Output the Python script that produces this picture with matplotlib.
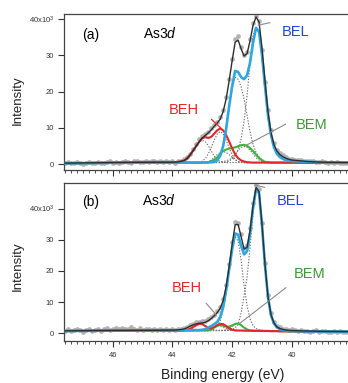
import numpy as np
import matplotlib
matplotlib.use("Agg")
import matplotlib.pyplot as plt
from matplotlib.ticker import MultipleLocator

plt.rcParams['font.family'] = ['Liberation Sans', 'DejaVu Sans']
plt.rcParams['mathtext.fontset'] = 'custom'
plt.rcParams['mathtext.rm'] = 'Liberation Sans'
plt.rcParams['mathtext.it'] = 'Liberation Sans:italic'

# binding energy grids (eV)
E_data = np.round(np.arange(47.6, 37.95, -0.1), 1)          # measured points
E_fine = np.round(np.arange(44.0, 39.95, -0.1), 1)          # fit region
E_fit = np.concatenate([[47.6, 46.5, 45.5, 44.5], E_fine, [39.5, 39.0, 38.0]])

# ---------------- panel (a), intensity in 10^3 counts ----------------
data_a = ([0.3, 0.5, 0.2, 0.4, 0.6, 0.3, 0.1, 0.4, 0.5, 0.2, 0.3, 0.6, 0.4, 0.2, 0.5, 0.7, 0.4, 0.6,
           0.3, 0.5, 0.8, 0.6, 0.4, 0.7, 0.9, 0.5, 0.6, 0.8, 0.5, 0.7, 0.9, 0.6, 0.8, 0.5, 0.7, 0.6]
          + [0.7, 0.4, 0.9, 0.8, 1.3, 1.8, 2.9, 4.1, 5.4, 6.8, 7.6, 8.2, 8.9, 9.9, 10.8, 11.6, 12.9,
             14.8, 18.6, 23.4, 29.1, 34.6, 35.2, 32.4, 30.1, 30.9, 34.6, 38.9, 40.9, 39.5, 31.6, 22.6,
             14.9, 9.3, 5.9, 3.9, 3.0, 2.4, 1.9, 1.4, 1.5]
          + [1.2, 1.0, 1.1, 0.8, 0.9, 0.7, 0.8, 0.6, 0.5, 0.7, 0.5, 0.4, 0.6, 0.3, 0.5, 0.4, 0.2, 0.4,
             0.3, 0.5])

total_a = ([0.25, 0.35, 0.45, 0.5]
           + [0.5, 0.55, 0.6, 0.75, 1.0, 1.6, 2.6, 3.8, 5.0, 6.2, 7.2, 7.9, 8.6, 9.4, 10.4, 11.3, 12.4,
              14.5, 18.0, 23.0, 28.5, 33.6, 34.2, 31.8, 29.8, 30.5, 34.0, 38.3, 40.6, 39.2, 32.0, 23.0,
              14.5, 8.8, 5.4, 3.6, 2.6, 2.0, 1.6, 1.3, 1.1]
           + [0.7, 0.5, 0.4])
bel_a = ([0.2, 0.3, 0.35, 0.4]
         + [0.4] * 11 + [0.45, 0.45, 0.5, 0.6, 1.0, 2.3, 5.0, 9.8, 16.0, 21.5, 25.7, 25.4, 24.0, 23.4,
                         24.5, 28.0, 33.5, 37.6, 36.5, 30.0, 21.5, 13.5, 8.0, 4.6, 2.8, 1.9, 1.4, 1.1,
                         0.9, 0.8]
         + [0.6, 0.45, 0.35])
beh_a = ([0.2, 0.3, 0.35, 0.45]
         + [0.5, 0.5, 0.6, 0.75, 1.0, 1.6, 2.6, 3.8, 5.0, 6.2, 7.1, 7.4, 7.2, 7.5, 8.4, 9.3, 9.8, 9.3,
            8.0, 6.2, 4.3, 2.7, 1.6, 1.0, 0.7, 0.5, 0.45] + [0.4] * 14
         + [0.35, 0.3, 0.3])
bem_a = ([0.2, 0.3, 0.35, 0.4]
         + [0.4] * 12 + [0.5, 0.8, 1.2, 1.8, 2.8, 3.6, 4.0, 4.3, 4.4, 4.6, 4.9, 5.2, 5.3, 5.0, 4.4,
                         3.6, 2.6, 1.7, 1.0, 0.6, 0.45, 0.4, 0.4, 0.4, 0.4, 0.4, 0.35, 0.35, 0.35]
         + [0.35, 0.3, 0.3])

# single doublet components (dotted), on E_fine
comp_a = [
    [0.4] * 16 + [0.6, 0.7, 0.9, 1.2, 1.6, 2.4, 3.9, 6.9, 11.9, 18.9, 27.9, 35.4, 37.6, 36.5, 30.0,
                  21.5, 13.5, 8.0, 4.6, 2.8, 1.9, 1.4, 1.1, 0.9, 0.7],
    [0.4] * 13 + [0.5, 0.7, 1.1, 2.3, 4.9, 9.4, 15.4, 20.9, 23.9, 23.4, 21.4, 17.9, 13.4, 8.9, 5.4,
                  3.2, 1.9, 1.2, 0.8, 0.6] + [0.5] + [0.4] * 7,
    [0.4, 0.4, 0.45, 0.5, 0.7, 1.3, 2.3, 3.6, 5.0, 6.0, 6.5, 6.2, 5.1, 3.6, 2.2, 1.2, 0.7, 0.5]
    + [0.4] * 23,
    [0.4] * 8 + [0.4, 0.5, 0.8, 1.5, 2.8, 4.6, 6.6, 8.3, 9.0, 8.3, 6.6, 4.4, 2.6, 1.3, 0.7, 0.5]
    + [0.4] * 17,
    [0.4] * 10 + [0.4, 0.5, 0.7, 1.1, 1.8, 2.6, 3.2, 3.4, 3.2, 2.6, 1.8, 1.1, 0.7, 0.5] + [0.4] * 17,
    [0.4] * 17 + [0.4, 0.5, 0.8, 1.5, 2.6, 3.8, 4.6, 4.8, 4.6, 3.8, 2.8, 1.8, 1.1, 0.7, 0.5]
    + [0.4] * 9,
]

# ---------------- panel (b) ----------------
data_b = ([0.8, 1.2, 0.6, 1.0, 1.4, 0.9, 0.5, 1.1, 1.3, 0.7, 1.0, 1.5, 0.8, 1.2, 1.6, 1.1, 1.4, 1.8,
           1.3, 1.7, 1.2, 1.5, 1.9, 1.3, 1.1, 1.6, 1.0, 1.4, 1.2, 0.9, 1.3, 1.1, 1.5, 0.9, 1.2, 1.0]
          + [1.3, 0.9, 1.4, 1.2, 1.7, 2.1, 2.7, 3.1, 3.5, 3.6, 3.8, 3.9, 4.5, 5.1, 6.0, 7.1, 8.4, 11.0,
             15.6, 22.1, 29.3, 35.6, 35.5, 31.8, 27.4, 28.3, 33.6, 41.8, 47.4, 46.2, 35.4, 22.6, 12.3,
             6.5, 3.7, 2.4, 1.9, 1.5, 1.3, 1.1, 1.2]
          + [1.0, 0.7, 0.9, 0.6, 0.8, 0.5, 0.7, 0.9, 0.4, 0.6, 0.8, 0.5, 0.3, 0.6, 0.4, 0.7, 0.5, 0.3,
             0.6, 0.4])

total_b = ([0.75, 0.85, 0.9, 0.95]
           + [1.0, 1.0, 1.1, 1.2, 1.4, 1.8, 2.3, 2.7, 3.0, 3.2, 3.3, 3.5, 4.0, 4.7, 5.6, 6.6, 8.0, 10.5,
              15.0, 21.5, 28.5, 34.8, 34.9, 31.0, 27.0, 27.6, 33.0, 41.0, 46.8, 45.5, 35.0, 22.0, 11.8,
              6.0, 3.3, 2.0, 1.5, 1.2, 1.0, 0.9, 0.85]
           + [0.7, 0.6, 0.5])
bel_b = ([0.7, 0.8, 0.85, 0.9]
         + [0.9, 0.9, 0.9, 0.9, 0.9, 0.95, 0.95, 1.0, 1.0, 1.0, 1.1, 1.3, 1.8, 2.3, 2.9, 3.6, 5.2, 8.5,
            13.8, 20.5, 27.0, 32.0, 31.6, 28.0, 25.3, 26.3, 32.0, 40.3, 46.2, 45.0, 34.6, 21.7, 11.6,
            5.8, 3.1, 1.9, 1.3, 1.0, 0.8, 0.7, 0.7]
         + [0.6, 0.55, 0.5])
beh_b = ([0.7, 0.8, 0.85, 0.9]
         + [0.9] * 4 + [0.95, 1.1, 1.4, 2.0, 2.6, 3.0, 2.9, 2.3, 1.7, 1.6, 2.0, 2.6, 3.0, 2.9, 2.3, 1.6,
                        1.1, 0.9]
         + [0.85, 0.85, 0.8, 0.8, 0.8, 0.75, 0.75, 0.75, 0.7, 0.7, 0.7, 0.65, 0.65, 0.65, 0.6, 0.6,
            0.6, 0.6, 0.6]
         + [0.55, 0.5, 0.5])
bem_b = ([0.7, 0.8, 0.85, 0.9]
         + [0.9] * 13 + [1.2, 1.8, 2.4, 2.6, 2.4, 2.1, 2.1, 2.5, 3.0, 3.1, 2.6, 1.8, 1.2, 0.9]
         + [0.85, 0.8, 0.8, 0.8, 0.75, 0.75, 0.7, 0.7, 0.7, 0.65, 0.65, 0.6, 0.6, 0.6]
         + [0.6, 0.55, 0.5])

comp_b = [
    [0.8] * 18 + [0.9, 1.0, 1.2, 1.7, 2.8, 6.5, 12.0, 18.0, 27.5, 38.5, 46.2, 45.0, 34.6, 21.7, 11.6,
                  5.8, 3.1, 1.9, 1.3, 1.0, 0.8, 0.7, 0.7],
    [0.8] * 13 + [1.1, 1.5, 2.3, 4.0, 7.3, 12.8, 19.8, 26.8, 31.1, 29.5, 23.5, 15.3, 8.8, 4.6, 2.4,
                  1.5, 1.1, 0.9] + [0.8, 0.8, 0.8, 0.8, 0.75, 0.75, 0.7, 0.7, 0.7, 0.7],
    [0.9] * 5 + [1.0, 1.3, 1.8, 2.4, 2.9, 2.9, 2.4, 1.8, 1.3, 1.0] + [0.9] * 11 + [0.8] * 15,
    [0.9] * 12 + [1.0, 1.3, 1.8, 2.4, 2.9, 2.9, 2.4, 1.8, 1.3, 1.0] + [0.9] * 4 + [0.8] * 15,
    [0.9] * 11 + [0.9, 1.1, 1.4, 1.9, 2.4, 2.4, 2.0, 1.5, 1.1, 0.9] + [0.9] * 5 + [0.8] * 15,
    [0.9] * 17 + [0.9, 1.1, 1.5, 2.2, 2.9, 3.1, 2.6, 1.8, 1.2, 0.9] + [0.8] * 14,
]

C_DATA = '#a6a6a6'
C_TOTAL = '#2e2e2e'
C_BEL = '#2ea6df'
C_BEH = '#e3262b'
C_BEM = '#3cb43a'
C_DOT = '#707070'
C_LEAD = '#8a8a8a'

W, H = 348.0, 383.0


def px(x, y):
    return x / W, 1 - y / H


def draw_panel(ax, data, total, bel, beh, bem, comps, ylim, show_xlabels):
    ax.plot(E_data, data, 'o', ms=3.4, mew=0, color=C_DATA, alpha=0.85, zorder=1)
    for c in comps:
        ax.plot(E_fine, c, color=C_DOT, lw=0.8, ls=(0, (1.2, 1.4)), zorder=2)
    ax.plot(E_fit, bem, color=C_BEM, lw=1.5, zorder=3)
    ax.plot(E_fit, beh, color=C_BEH, lw=1.5, zorder=4)
    ax.plot(E_fit, bel, color=C_BEL, lw=1.9, zorder=5)
    ax.plot(E_fit, total, color=C_TOTAL, lw=1.0, zorder=6)

    ax.set_xlim(47.63, 37.9)
    ax.set_ylim(*ylim)
    ax.set_yticks([0, 10, 20, 30, 40])
    ax.set_yticklabels(['0', '10', '20', '30', '40x10$^3$'])
    ax.set_xticks([46, 44, 42, 40, 38])
    ax.xaxis.set_minor_locator(MultipleLocator(0.2))
    ax.tick_params(axis='both', which='major', direction='out', length=4, width=0.8,
                   labelsize=5.5, colors='#333333', pad=3)
    ax.tick_params(axis='x', which='minor', direction='out', length=2.5, width=0.6,
                   colors='#333333')
    ax.tick_params(axis='x', labelbottom=show_xlabels, pad=4)
    for s in ax.spines.values():
        s.set_color('#444444')
        s.set_linewidth(0.9)


fig = plt.figure(figsize=(3.48, 3.83), dpi=100)
ax_a = fig.add_axes([64 / W, 1 - 170 / H, 290.6 / W, 156 / H])
ax_b = fig.add_axes([64 / W, 1 - 340.7 / H, 290.6 / W, 157.4 / H])

draw_panel(ax_a, data_a, total_a, bel_a, beh_a, bem_a, comp_a, (-1.65, 41.4), False)
draw_panel(ax_b, data_b, total_b, bel_b, beh_b, bem_b, comp_b, (-2.4, 48.1), True)

# leader lines (data coordinates)
ax_a.plot([41.13, 40.74], [38.3, 39.0], color=C_LEAD, lw=0.8, zorder=7)
ax_a.plot([42.69, 42.36], [12.3, 9.8], color=C_BEH, lw=0.9, zorder=7)
ax_a.plot([40.21, 41.52], [11.0, 5.2], color=C_LEAD, lw=0.8, zorder=7)
ax_b.plot([41.24, 40.91], [47.5, 46.8], color=C_LEAD, lw=0.8, zorder=7)
ax_b.plot([42.87, 42.53], [9.6, 5.9], color=C_LEAD, lw=0.8, zorder=7)
ax_b.plot([40.20, 41.74], [14.6, 3.2], color=C_LEAD, lw=0.8, zorder=7)

# labels
for (x, y), s, c in [((91, 35), '(a)', 'black'), ((160, 34), 'As3$\\mathit{d}$', 'black'),
                     ((296, 31.5), 'BEL', '#2a40dd'), ((184, 110), 'BEH', C_BEH),
                     ((312, 125), 'BEM', '#3a9c34'),
                     ((91, 202), '(b)', 'black'), ((159, 200), 'As3$\\mathit{d}$', 'black'),
                     ((291, 201), 'BEL', '#2a40dd'), ((187, 288), 'BEH', C_BEH),
                     ((310, 274), 'BEM', '#3a9c34')]:
    fs = 10.5 if s.startswith('BE') else 10
    fig.text(*px(x, y), s, ha='center', va='center', fontsize=fs, color=c)

fig.text(*px(17.5, 100), 'Intensity', rotation=90, ha='center', va='center', fontsize=9.5,
         color='#222222')
fig.text(*px(17.5, 266), 'Intensity', rotation=90, ha='center', va='center', fontsize=9.5,
         color='#222222')
fig.text(*px(222.5, 375), 'Binding energy (eV)', ha='center', va='center', fontsize=10,
         color='#222222')

fig.savefig('out.png', dpi=100)
